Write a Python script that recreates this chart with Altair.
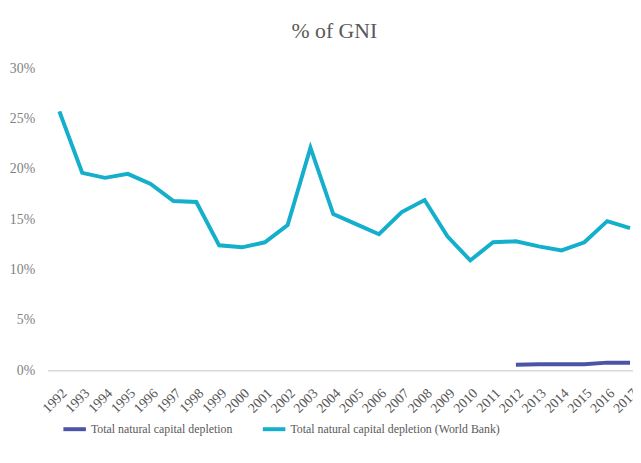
import altair as alt
import pandas as pd

years = list(range(1992, 2018))
wb_values = [25.7, 19.6, 19.1, 19.5, 18.5, 16.8, 16.7, 12.4, 12.2, 12.7, 14.4, 22.1,
             15.5, 14.5, 13.5, 15.7, 16.9, 13.3, 10.9, 12.7, 12.8, 12.3, 11.9, 12.7,
             14.8, 14.1]
tncd_years = [2012, 2013, 2014, 2015, 2016, 2017]
tncd_values = [0.55, 0.6, 0.6, 0.6, 0.75, 0.75]

series_names = ["Total natural capital depletion",
                "Total natural capital depletion (World Bank)"]
series_colors = ["#4B55A8", "#14AFCC"]
y_ticks = [0, 0.05, 0.10, 0.15, 0.20, 0.25, 0.30]

rows = []
for y, v in zip(years, wb_values):
    rows.append({"year": y, "value": v / 100, "series": series_names[1]})
for y, v in zip(tncd_years, tncd_values):
    rows.append({"year": y, "value": v / 100, "series": series_names[0]})
df = pd.DataFrame(rows)

FONT = "Liberation Serif"

chart = alt.Chart(df).mark_line(strokeWidth=4).encode(
    x=alt.X("year:Q",
            scale=alt.Scale(domain=[1991.48, 2017.13], nice=False, zero=False),
            axis=alt.Axis(values=years, format="d", labelAngle=-45, title=None,
                          ticks=False, grid=False, domainColor="#D9D9D9",
                          domainWidth=1.5, labelFont=FONT, labelFontSize=14,
                          labelColor="#595959", labelPadding=16,
                          labelOverlap=False, labelFlush=False, labelBound=False)),
    y=alt.Y("value:Q",
            scale=alt.Scale(domain=[0, 0.30], nice=False),
            axis=alt.Axis(values=y_ticks, format=".0%", title=None, ticks=False,
                          domain=False, grid=False, labelFont=FONT,
                          labelFontSize=14, labelColor="#7F7F7F",
                          labelPadding=13)),
    color=alt.Color("series:N",
                    scale=alt.Scale(domain=series_names, range=series_colors),
                    legend=alt.Legend(orient="none", legendX=14, legendY=352,
                                      direction="horizontal", title=None,
                                      symbolType="stroke", symbolStrokeWidth=4,
                                      symbolSize=520, labelFont=FONT,
                                      labelFontSize=12, labelColor="#595959",
                                      labelOffset=3, columnPadding=22,
                                      labelLimit=500)),
    order=alt.Order("year:Q"),
).properties(
    width=593,
    height=306,
    title=alt.TitleParams("% of GNI", font=FONT, fontSize=22, fontWeight="normal",
                          color="#595959", anchor="middle", dx=-6, offset=18),
    autosize=alt.AutoSizeParams(type="none"),
    padding={"left": 40, "top": 58, "right": 0, "bottom": 80},
).configure(font=FONT).configure_view(stroke=None)

chart.save("out.html", embed_options={"renderer": "svg", "actions": False})
